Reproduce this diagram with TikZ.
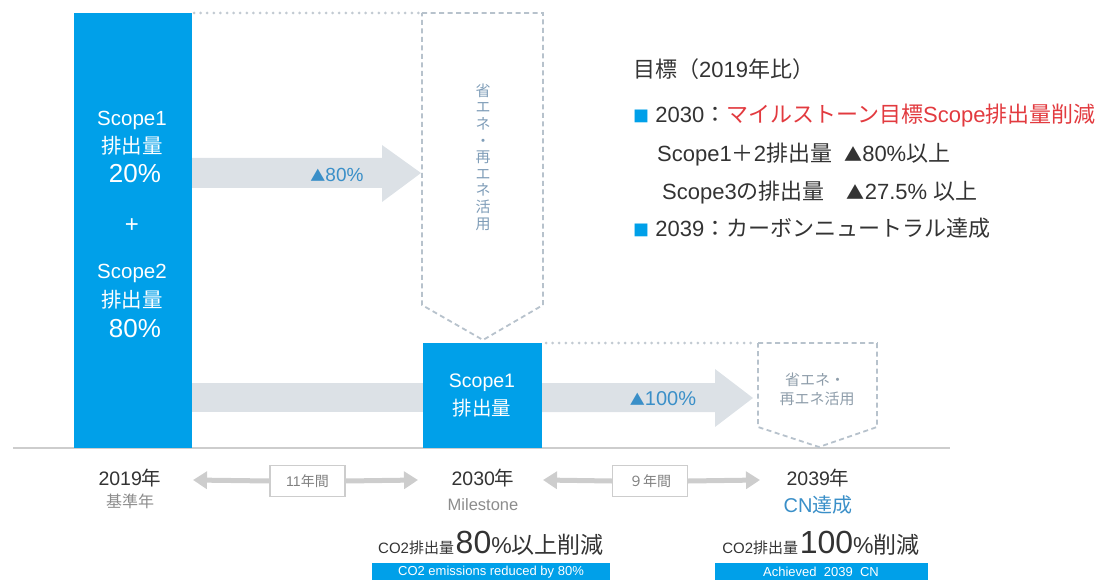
\documentclass[tikz,border=0pt]{standalone}
\usepackage{fontspec}
\setmainfont{Liberation Sans}
\newfontfamily\jp{Noto Sans CJK JP}
\usetikzlibrary{arrows.meta}
\definecolor{barblue}{HTML}{00A0E9}
\definecolor{bandgray}{HTML}{DCE1E6}
\definecolor{dashgray}{HTML}{B7C2CC}
\definecolor{dotgray}{HTML}{C2CAD2}
\definecolor{txtblue}{HTML}{3A8FC8}
\definecolor{softgray}{HTML}{8C8C8C}
\definecolor{redtxt}{HTML}{E23A3F}
\definecolor{darktxt}{HTML}{333333}
\definecolor{linegray}{HTML}{CDCDCD}
\definecolor{vtxt}{HTML}{7F9DB8}
\definecolor{ptxt}{HTML}{8E9DAA}
\newcommand\J[1]{{\jp #1}}
\newcommand\fs[1]{\fontsize{#1}{#1}\selectfont}
\newcommand\bul{{\color{barblue}\jp\fs{16}■}}
\begin{document}
\begin{tikzpicture}[x=1pt,y=-1pt,
  bluebox/.style={fill=barblue, draw=none, inner sep=0pt, anchor=north west},
  wtxt/.style={text=white, inner sep=0pt, font=\fs{20.5}},
  dashbox/.style={draw=dashgray, line width=1.8pt, dash pattern=on 5pt off 3.5pt},
  dotline/.style={draw=dotgray, line width=3pt, line cap=round, dash pattern=on 0pt off 6.6pt},
  goal/.style={anchor=base west, inner sep=0pt, text=darktxt, font=\fs{22}},
  yr/.style={inner sep=0pt, text=darktxt, font=\fs{19.5}},
  yrsub/.style={inner sep=0pt, text=softgray, font=\fs{16.5}},
  span/.style={draw=linegray, line width=1.2pt, fill=white, minimum width=75pt, minimum height=31pt, inner sep=0pt, text=gray, font=\fs{14}},
  spanarrow/.style={draw=linegray, line width=5pt, -{Triangle[length=14pt,width=17pt]}},
  ribbon/.style={fill=barblue, inner sep=0pt, anchor=north west, text=white},
]
\useasboundingbox (0,0) rectangle (1118,580);

% gray bands and block arrows
\fill[bandgray] (191,383) rectangle (423,412);
\fill[bandgray] (191,158) -- (382,158) -- (382,145) -- (421,173) -- (382,202) -- (382,188) -- (191,188) -- cycle;
\fill[bandgray] (542,383) -- (715,383) -- (715,369) -- (753,398) -- (715,427) -- (715,412) -- (542,412) -- cycle;

% baseline
\coordinate (gl) at (13,448);
\coordinate (gr) at (950,448);
\draw[linegray, line width=2.6pt] (gl) -- (gr);

% blue bars
\node[bluebox, minimum width=118pt, minimum height=435pt] (bar1) at (74,13) {};
\node[bluebox, minimum width=119pt, minimum height=105pt] (bar2) at (423,343) {};

\node[wtxt] (s1) at (132,120) {Scope1};
\node[wtxt] (e1) at (132,146) {\J{排出量}};
\node[wtxt, font=\fs{26}] (p1) at (135,174) {20\%};
\node[wtxt, font=\fs{24}] (plus) at (132,226) {+};
\node[wtxt] (s2) at (132,273) {Scope2};
\node[wtxt] (e2) at (132,300) {\J{排出量}};
\node[wtxt, font=\fs{26}] (p2) at (135,329) {80\%};

\node[wtxt, font=\fs{19.5}] (s3) at (482,383) {Scope1};
\node[wtxt, font=\fs{19.5}] (e3) at (482,408) {\J{排出量}};

% arrow labels
\node[inner sep=0pt, text=txtblue, font=\fs{19}] (a80) at (337,175) {\J{\fs{15}▲}80\%};
\node[inner sep=0pt, text=txtblue, font=\fs{20}] (a100) at (663,399) {\J{\fs{15}▲}100\%};

% dotted guide lines
\coordinate (d1a) at (194,13);
\coordinate (d1b) at (420,13);
\draw[dotline] (d1a) -- (d1b);
\coordinate (d2a) at (546,343);
\coordinate (d2b) at (755,343);
\draw[dotline] (d2a) -- (d2b);

% dashed pentagons
\draw[dashbox] (422,13) -- (543,13) -- (543,305) -- (483,340) -- (422,305) -- cycle;
\node[inner sep=0pt, text=vtxt, align=center, font=\jp\fontsize{15}{16.6}\selectfont]
  (vt) at (483,157) {省\\エ\\ネ\\・\\再\\エ\\ネ\\活\\用};
\draw[dashbox] (758,343) -- (877,343) -- (877,427) -- (819,447) -- (758,427) -- cycle;
\node[inner sep=0pt, text=ptxt, font=\jp\fs{15}] (pt1) at (815,380) {省エネ・};
\node[inner sep=0pt, text=ptxt, font=\jp\fs{15}] (pt2) at (817,399) {再エネ活用};

% goals panel
\node[goal] (g0) at (633,78) {\J{目標（}2019\J{年比）}};
\node[goal] (g1) at (633,123) {\bul\ 2030\J{：}{\color{redtxt}\J{マイルストーン目標}Scope\J{排出量削減}}};
\node[goal] (g2) at (657,162) {Scope1\J{＋}2\J{排出量}\ \ \J{\fs{18}▲}80\%\J{以上}};
\node[goal] (g3) at (662,199) {Scope3\J{の排出量}\quad\J{\fs{18}▲}27.5\%\ \J{以上}};
\node[goal] (g4) at (633,236) {\bul\ 2039\J{：カーボンニュートラル達成}};

% timeline labels
\node[yr] (y19) at (130,478) {2019\J{年}};
\node[yrsub, font=\jp\fs{16}] (y19s) at (130,501) {基準年};
\node[yr] (y30) at (483,478) {2030\J{年}};
\node[yrsub] (y30s) at (483,505) {Milestone};
\node[yr] (y39) at (818,478) {2039\J{年}};
\node[yrsub, text=txtblue, font=\fs{20}] (y39s) at (818,505) {CN\J{達成}};

% span arrows
\node[span] (sp1) at (307.5,481) {11\J{年間}};
\coordinate (sp1l) at (193,480);
\coordinate (sp1r) at (418,480);
\draw[spanarrow] (sp1.west) -- (sp1l);
\draw[spanarrow] (sp1.east) -- (sp1r);
\node[span, font=\jp\fs{14}] (sp2) at (650,481) {９年間};
\coordinate (sp2l) at (543,480);
\coordinate (sp2r) at (760,480);
\draw[spanarrow] (sp2.west) -- (sp2l);
\draw[spanarrow] (sp2.east) -- (sp2r);

% reduction statements
\node[anchor=base, inner sep=0pt, text=darktxt] (r30) at (491,553)
  {{\fs{15}CO2\J{排出量}}\,{\fs{32}80}{\fs{23}\%\J{以上削減}}};
\node[anchor=base, inner sep=0pt, text=darktxt] (r39) at (821,553)
  {{\fs{15}CO2\J{排出量}}\,{\fs{32}100}{\fs{23}\%\J{削減}}};

\node[ribbon, minimum width=238pt, minimum height=20pt] (rb1) at (372,563) {};
\node[inner sep=0pt, text=white, font=\fs{13}] (rb1t) at (491,572) {CO2 emissions reduced by 80\%};
\node[ribbon, minimum width=213pt, minimum height=20pt] (rb2) at (715,563) {};
\node[inner sep=0pt, text=white, font=\fs{13}] (rb2t) at (821,572) {Achieved\ \ 2039\ \ CN};
\end{tikzpicture}
\end{document}
